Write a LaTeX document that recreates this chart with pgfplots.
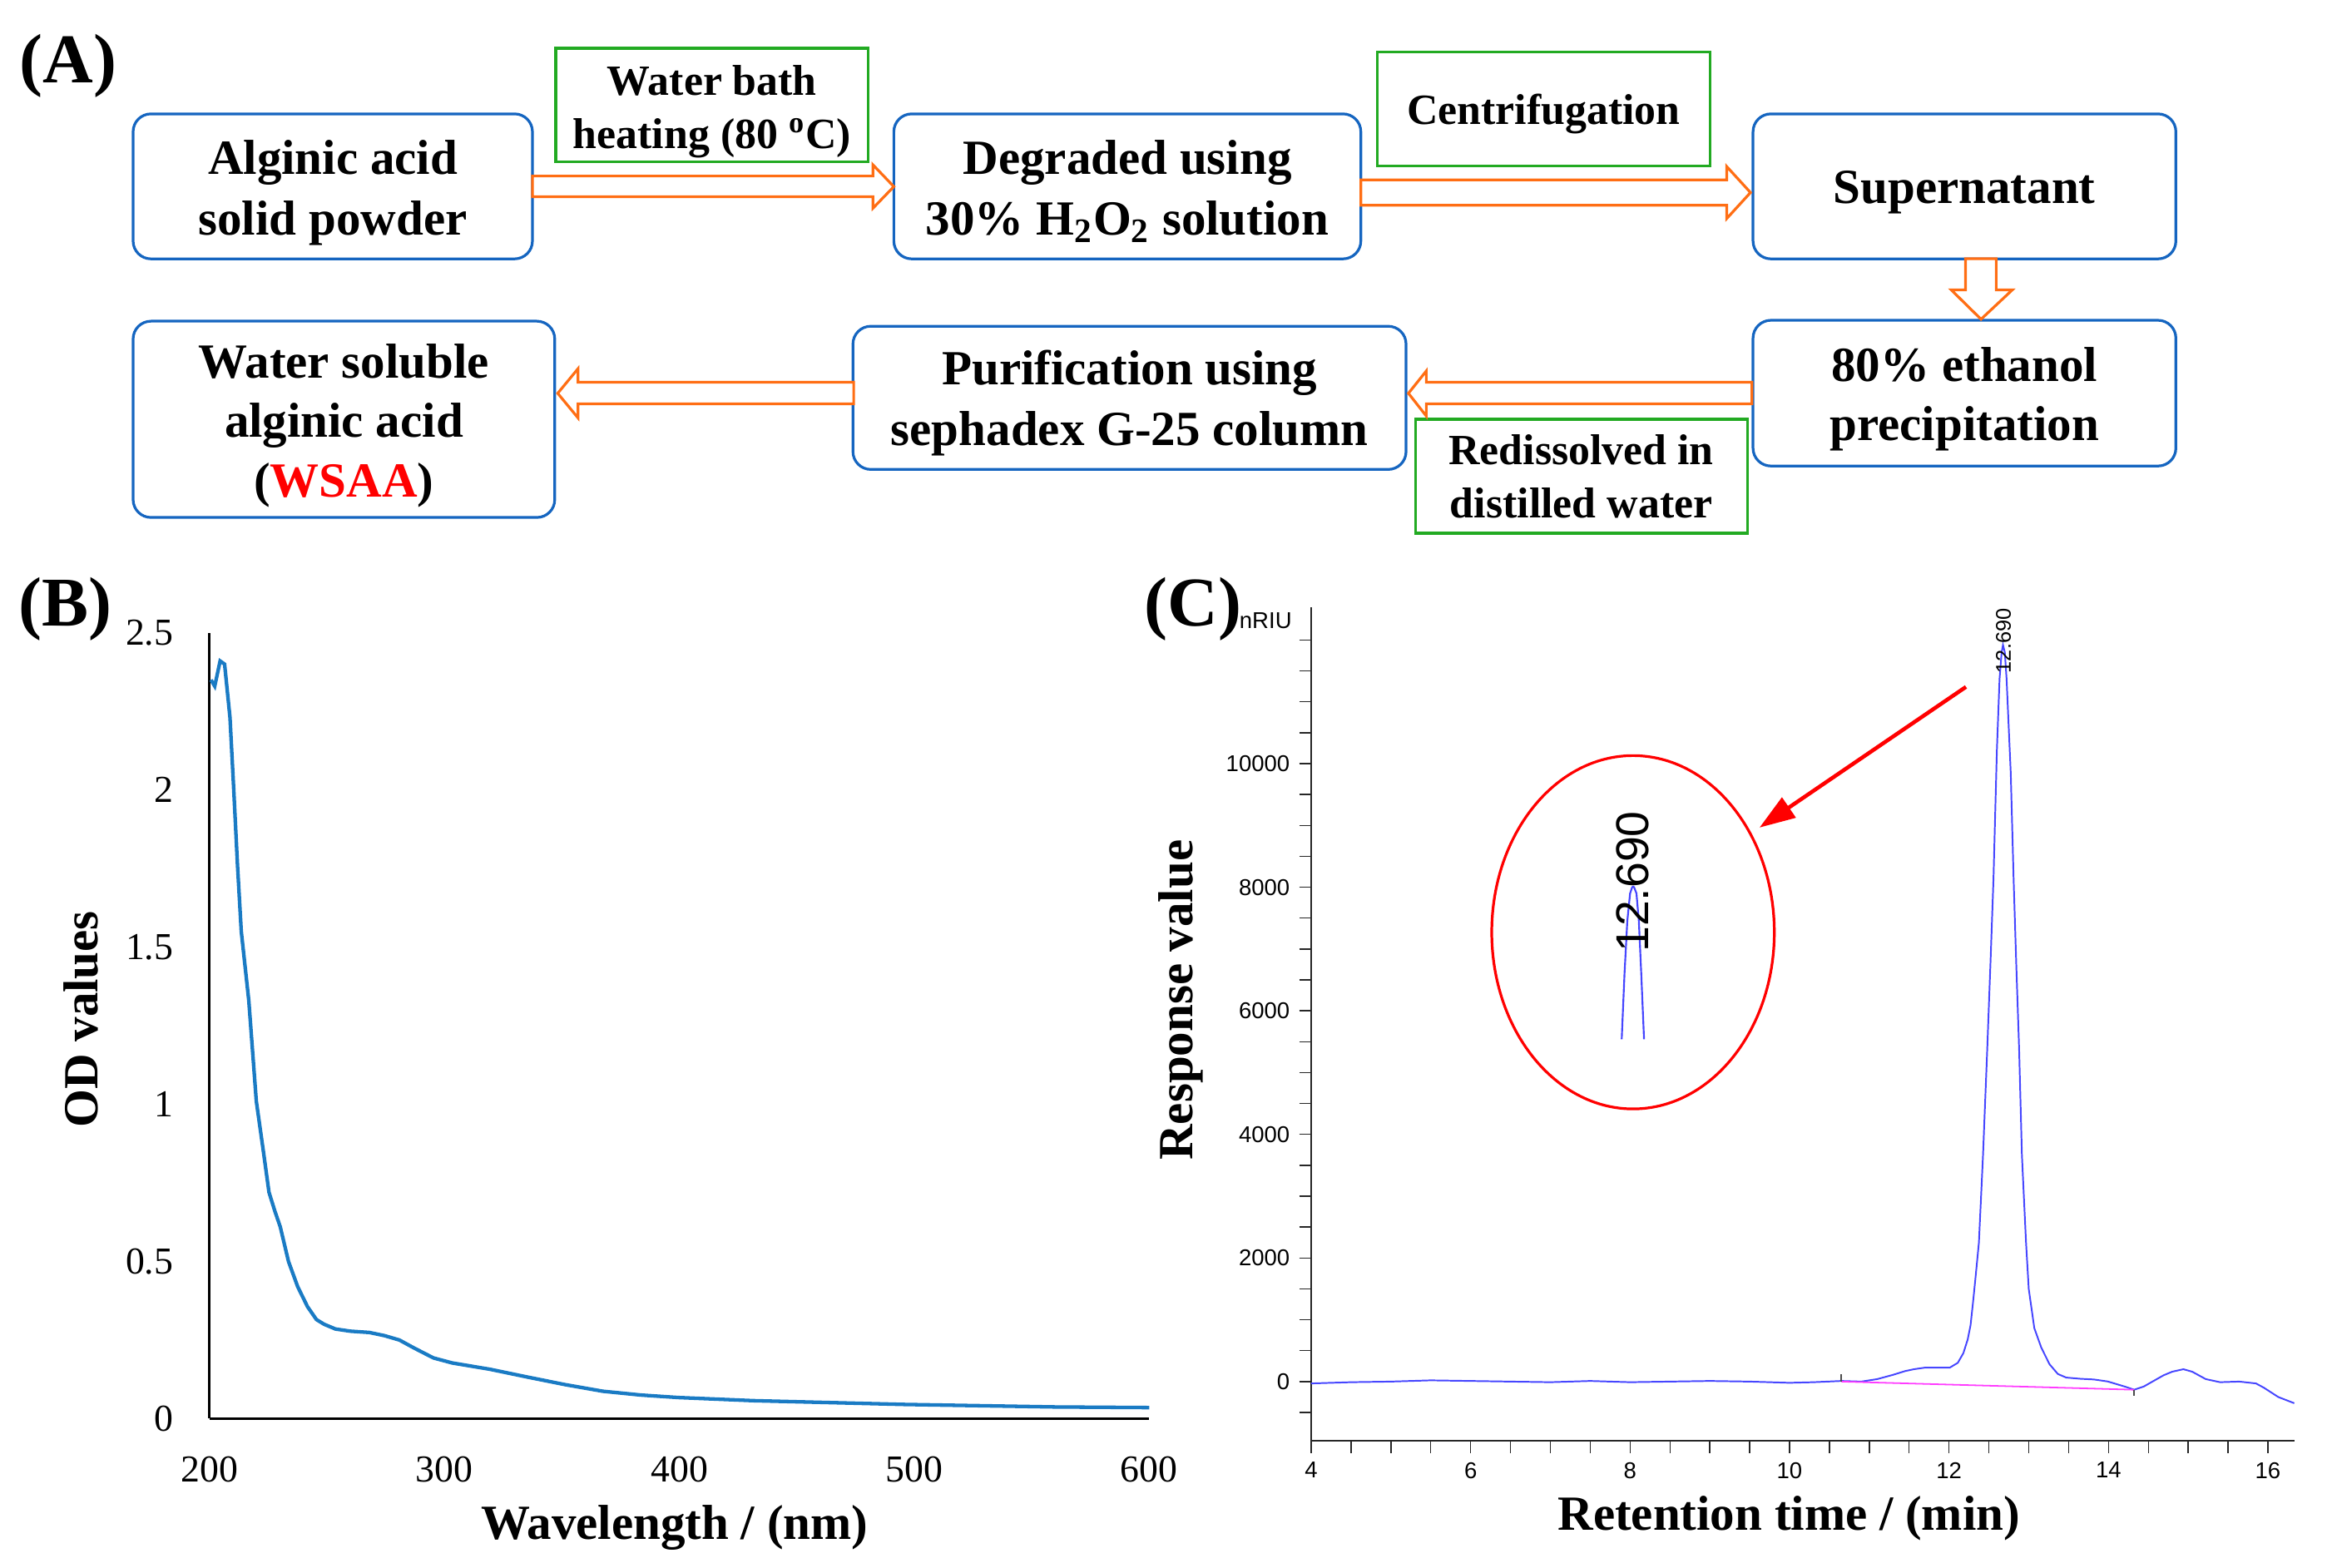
\documentclass[border=0pt]{standalone}
\usepackage{fontspec}
\setmainfont{Liberation Serif}
\newfontfamily\arial{Liberation Sans}
\usepackage{pgfplots}
\pgfplotsset{compat=1.18}
\usetikzlibrary{arrows.meta}
\definecolor{boxblue}{RGB}{21,101,192}
\definecolor{boxgreen}{RGB}{34,170,34}
\definecolor{arrorange}{RGB}{255,110,20}
\definecolor{bcurve}{RGB}{26,123,196}
\definecolor{ccurve}{RGB}{70,70,255}
\definecolor{cmag}{RGB}{255,60,255}
\newcommand\bfont{\bfseries\fontsize{16.5}{20}\selectfont}
\newcommand\gfont{\bfseries\fontsize{14.5}{18}\selectfont}
\newcommand\axlab{\bfseries\fontsize{16.5}{20}\selectfont}
\newcommand\plab{\bfseries\fontsize{23.5}{26}\selectfont}
\begin{document}
\begin{tikzpicture}
\useasboundingbox (0,0) rectangle (784pt,527pt);
\begin{scope}[x=0.5pt,y=-0.5pt,shift={(0pt,527pt)}]
% boxes
\draw[boxblue, line width=0.9pt, rounded corners=6pt] (89.5,76.6) rectangle (358,174.1);
\draw[boxblue, line width=0.9pt, rounded corners=6pt] (601,76.6) rectangle (915,174.1);
\draw[boxblue, line width=0.9pt, rounded corners=6pt] (1178.7,76.6) rectangle (1463,174.1);
\draw[boxblue, line width=0.9pt, rounded corners=6pt] (1178.7,215.4) rectangle (1463,313.4);
\draw[boxblue, line width=0.9pt, rounded corners=6pt] (573.5,219.4) rectangle (945.4,315.7);
\draw[boxblue, line width=0.9pt, rounded corners=6pt] (89.5,216) rectangle (373,348);
\draw[boxgreen, line width=0.9pt] (373.7,32.5) rectangle (583.8,109);
\draw[boxgreen, line width=0.9pt] (926,34.8) rectangle (1150,111.4);
\draw[boxgreen, line width=0.9pt] (951.6,282) rectangle (1174.8,358.6);
% arrows
\draw[arrorange, line width=0.9pt, fill=white] (358,118.4) -- (587,118.4) -- (587,110.9) -- (601,125.5) -- (587,140) -- (587,132.3) -- (358,132.3) -- cycle;
\draw[arrorange, line width=0.9pt, fill=white] (915,121) -- (1161,121) -- (1161,112) -- (1177,129.5) -- (1161,147) -- (1161,138) -- (915,138) -- cycle;
\draw[arrorange, line width=0.9pt, fill=white] (1321.6,174) -- (1321.6,195) -- (1312,195) -- (1332,214.7) -- (1353,195) -- (1342.2,195) -- (1342.2,174) -- cycle;
\draw[arrorange, line width=0.9pt, fill=white] (1178,257) -- (959,257) -- (959,249.5) -- (947,264.5) -- (959,279.8) -- (959,271.6) -- (1178,271.6) -- cycle;
\draw[arrorange, line width=0.9pt, fill=white] (574,257) -- (388.6,257) -- (388.6,248) -- (375,264.5) -- (388.6,281) -- (388.6,271.6) -- (574,271.6) -- cycle;
% texts
\begin{scope}[every node/.style={anchor=base, inner sep=0pt}]
\node[font=\bfont] at (223.75,117.2) {Alginic acid};
\node[font=\bfont] at (223.75,157.8) {solid powder};
\node[font=\gfont] at (478.75,63.9) {Water bath};
\node[font=\gfont] at (478.75,99.8) {heating (80 \textsuperscript{o}C)};
\node[font=\bfont] at (758,117.2) {Degraded using};
\node[font=\bfont] at (758,157.8) {30\% H\textsubscript{2}O\textsubscript{2} solution};
\node[font=\gfont] at (1038,83.6) {Centrifugation};
\node[font=\bfont] at (1320.85,137) {Supernatant};
\node[font=\bfont] at (1320.85,256.5) {80\% ethanol};
\node[font=\bfont] at (1320.85,296) {precipitation};
\node[font=\bfont] at (759.45,258.8) {Purification using};
\node[font=\bfont] at (759.45,299.4) {sephadex G-25 column};
\node[font=\gfont] at (1063.2,312.2) {Redissolved in};
\node[font=\gfont] at (1063.2,348.2) {distilled water};
\node[font=\bfont] at (231.25,254.2) {Water soluble};
\node[font=\bfont] at (231.25,293.7) {alginic acid};
\node[font=\bfont] at (231.25,334.3) {(\textcolor{red}{WSAA})};
\node[font=\plab] at (46,55.7) {(A)};
\node[font=\plab] at (44,421) {(B)};
\node[font=\plab] at (802,421) {(C)};
\node[font=\arial\fontsize{7.7}{9}\selectfont] at (851,422.5) {nRIU};
\node[font=\axlab, rotate=90] at (66,685.5) {OD values};
\node[font=\axlab] at (453.5,1035) {Wavelength / (nm)};
\node[font=\axlab, rotate=90] at (802,672.5) {Response value};
\node[font=\axlab] at (1202.8,1029) {Retention time / (min)};
\end{scope}
\end{scope}

% Panel B
\begin{axis}[at={(70.45pt,50pt)}, anchor=south west, scale only axis,
  width=315.9pt, height=264.25pt,
  xmin=200, xmax=600, ymin=0, ymax=2.5,
  axis x line*=bottom, axis y line*=left,
  axis line style={-, black, line width=0.8pt},
  major tick length=0pt,
  xtick={200,300,400,500,600}, ytick={0,0.5,1,1.5,2,2.5},
  tick label style={font=\fontsize{12.8}{15}\selectfont, inner sep=0pt},
  xticklabel style={yshift=-12.5pt},
  yticklabel style={xshift=-12pt},
  /pgf/number format/assume math mode=true,
  clip=false]
\addplot[color=bcurve, line width=1.2pt] coordinates {
(200.6,2.35)(202.2,2.33)(204.5,2.41)(206.4,2.40)(208.7,2.23)(210.3,2.00)(211.9,1.76)
(213.5,1.55)(216.7,1.33)(219.9,1.01)(223.1,0.84)(225.3,0.72)(227.8,0.66)(230.1,0.61)
(233.6,0.50)(237.5,0.42)(241.7,0.356)(245.5,0.315)(248.8,0.30)(253.6,0.285)(260,0.278)
(268,0.274)(274.4,0.264)(280.8,0.25)(287.2,0.224)(295.3,0.193)(303.3,0.177)(319.3,0.157)
(335.4,0.132)(351.4,0.108)(367.4,0.087)(383.5,0.075)(399.5,0.067)(431.6,0.057)(463.7,0.051)
(495.8,0.045)(527.9,0.041)(560,0.037)(600,0.035)};
\end{axis}

% Panel C
\begin{axis}[at={(440.8pt,42.5pt)}, anchor=south west, scale only axis,
  width=330.5pt, height=280.3pt,
  xmin=4, xmax=16.33, ymin=-960, ymax=12530,
  axis x line*=bottom, axis y line*=left,
  axis line style={-, black!85, line width=0.5pt},
  tick align=outside, major tick length=4pt, minor tick length=4pt,
  tick style={black!85, line width=0.4pt},
  xtick={4,6,...,16}, minor xtick={4,4.5,...,16.01},
  ytick={0,2000,...,10000}, minor ytick={-500,0,...,12000},
  scaled y ticks=false,
  tick label style={font=\arial\fontsize{7.7}{9}\selectfont, inner sep=0pt},
  xticklabel style={yshift=-3pt},
  yticklabel style={xshift=-3pt},
  /pgf/number format/assume math mode=true,
  /pgf/number format/1000 sep={},
  clip=false]
\addplot[color=ccurve, line width=0.55pt] coordinates {
(4,-30)(4.5,-10)(5,0)(5.5,20)(6,10)(6.5,0)(7,-10)(7.5,10)(8,-10)(8.5,0)(9,10)(9.5,0)
(10,-20)(10.3,-10)(10.65,10)(10.9,0)(11.1,40)(11.3,110)(11.45,170)(11.56,200)(11.7,226)
(12.01,226)(12.11,303)(12.18,460)(12.235,684)(12.27,910)(12.30,1268)(12.33,1650)
(12.375,2250)(12.427,3677)(12.48,5396)(12.52,6770)(12.558,8144)(12.60,10202)(12.634,11372)
(12.66,11800)(12.677,11920)(12.70,11800)(12.722,11372)(12.774,9858)(12.81,8144)
(12.843,6770)(12.879,5396)(12.914,3677)(12.966,2250)(13.0,1500)(13.07,864)(13.157,551)
(13.26,282)(13.365,123)(13.47,65)(13.65,45)(13.817,34)(13.99,2)(14.2,-79)(14.323,-132)
(14.444,-79)(14.69,101)(14.8,160)(14.94,200)(15.05,160)(15.22,40)(15.4,-10)(15.64,0)
(15.85,-30)(15.95,-100)(16.13,-250)(16.33,-350)};
\addplot[color=cmag, line width=0.5pt] coordinates {(10.65,0)(14.323,-132)};
\addplot[color=black!70, line width=0.5pt] coordinates {(10.65,0)(10.65,120)};
\addplot[color=black!70, line width=0.5pt] coordinates {(14.323,-132)(14.323,-236)};
% inset
\addplot[color=ccurve, line width=0.6pt] coordinates {
(7.895,5540)(7.93,6600)(7.965,7450)(8.00,7900)(8.026,8000)(8.038,8010)(8.05,8000)
(8.08,7900)(8.11,7450)(8.14,6600)(8.175,5540)};
\draw[red, line width=0.9pt] (axis cs:8.037,7271) ellipse [x radius=47.5pt, y radius=59.4pt];
\node[rotate=90, font=\arial\fontsize{15.5}{17}\selectfont, inner sep=0pt] at (axis cs:8.037,8089) {12.690};
\node[rotate=90, font=\arial\fontsize{7.1}{8}\selectfont, inner sep=0pt] at (axis cs:12.683,11988) {12.690};
\draw[red, line width=1.3pt, -{Triangle[length=12pt,width=8pt]}] (axis cs:12.213,11242) -- (axis cs:9.623,8965);
\end{axis}
\end{tikzpicture}
\end{document}
